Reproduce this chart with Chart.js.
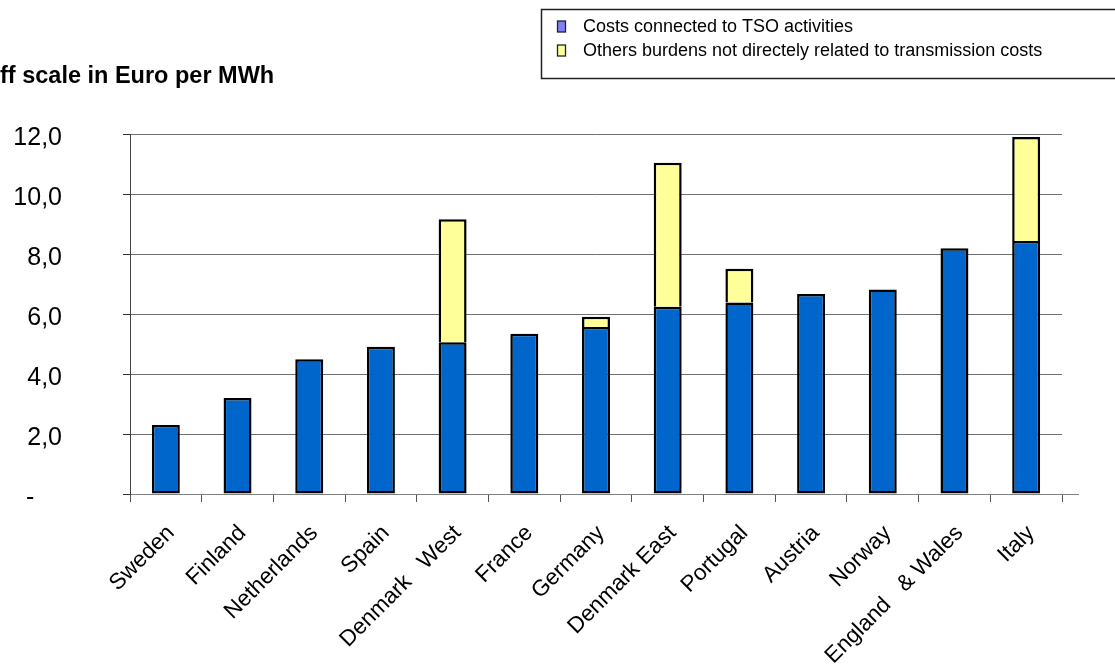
<!DOCTYPE html>
<html>
<head>
<meta charset="utf-8">
<script src="https://cdn.jsdelivr.net/npm/chart.js@4.4.1/dist/chart.umd.min.js"></script>
<style>
  html, body { margin: 0; padding: 0; background: #ffffff; }
  #wrap { width: 1115px; height: 666px; position: relative; }
</style>
</head>
<body>
<div id="wrap"><canvas id="c" width="1115" height="666"></canvas></div>
<script>
// Countries, ordered by transmission tariff
const countries = [
  'Sweden', 'Finland', 'Netherlands', 'Spain', 'Denmark   West', 'France',
  'Germany', 'Denmark East', 'Portugal', 'Austria', 'Norway',
  'England   & Wales', 'Italy'
];

// Euro per MWh, costs connected to TSO activities
const tsoCosts = [2.3, 3.2, 4.49, 4.91, 5.06, 5.34, 5.57, 6.24, 6.38, 6.67, 6.82, 8.19, 8.43];

// Euro per MWh, other burdens stacked on top
const otherBurdens = [0, 0, 0, 0, 4.1, 0, 0.34, 4.8, 1.13, 0, 0, 0, 3.47];

// Value axis labels, from 0 up to 12
const yTickLabels = ['-    ', '2,0', '4,0', '6,0', '8,0', '10,0', '12,0'];

const seriesNames = [
  'Costs connected to TSO activities',
  'Others burdens not directely related to transmission costs'
];

const FONT = "'Liberation Sans', Arial, sans-serif";
const BLUE = '#0066CC';
const YELLOW = '#FFFF99';
const SWATCH_BLUE = '#8080F4';
const SWATCH_YELLOW = '#FFFF99';

// Boxed legend in the top-right corner
const boxedLegend = {
  id: 'boxedLegend',
  afterDraw(chart) {
    const ctx = chart.ctx;
    ctx.save();
    ctx.lineWidth = 1.5;
    ctx.strokeStyle = '#222';
    ctx.strokeRect(541.5, 9.5, 620, 69);
    chart.data.datasets.forEach((ds, i) => {
      const y = 27 + i * 24;
      ctx.fillStyle = ds.swatch;
      ctx.fillRect(557.5, y - 6, 8, 11);
      ctx.lineWidth = 1.3;
      ctx.strokeStyle = '#222';
      ctx.strokeRect(557.5, y - 6, 8, 11);
      ctx.fillStyle = '#000';
      ctx.font = '18px ' + FONT;
      ctx.textBaseline = 'middle';
      ctx.textAlign = 'left';
      ctx.fillText(ds.label, 583, y);
    });
    ctx.restore();
  }
};

// Category axis baseline runs a little past the last column
const baselineTail = {
  id: 'baselineTail',
  afterDraw(chart) {
    const {ctx, chartArea} = chart;
    ctx.save();
    ctx.strokeStyle = '#808080';
    ctx.lineWidth = 1;
    ctx.beginPath();
    ctx.moveTo(chartArea.right, Math.round(chartArea.bottom) + 0.5);
    ctx.lineTo(1079, Math.round(chartArea.bottom) + 0.5);
    ctx.stroke();
    ctx.restore();
  }
};

new Chart(document.getElementById('c'), {
  type: 'bar',
  data: {
    labels: countries,
    datasets: [
      {
        label: seriesNames[0],
        data: tsoCosts,
        backgroundColor: BLUE,
        borderColor: '#000',
        borderWidth: 2.5,
        borderSkipped: false,
        swatch: SWATCH_BLUE,
        barPercentage: 0.39,
        categoryPercentage: 1.0
      },
      {
        label: seriesNames[1],
        data: otherBurdens,
        backgroundColor: YELLOW,
        borderColor: '#000',
        borderWidth: 2.5,
        borderSkipped: 'bottom',
        swatch: SWATCH_YELLOW,
        barPercentage: 0.39,
        categoryPercentage: 1.0
      }
    ]
  },
  options: {
    responsive: false,
    animation: false,
    layout: { padding: { left: 0, right: 53, top: 0, bottom: 0 } },
    plugins: {
      legend: { display: false },
      tooltip: { enabled: false },
      title: {
        display: true,
        text: 'ff scale in Euro per MWh',
        align: 'start',
        color: '#000',
        font: { family: FONT, size: 23.5, weight: 'bold' },
        padding: { top: 62, bottom: 43.8 }
      }
    },
    scales: {
      x: {
        stacked: true,
        offset: true,
        grid: {
          display: true,
          drawOnChartArea: false,
          drawTicks: true,
          tickLength: 8,
          color: '#555',
          offset: true
        },
        border: { display: true, color: '#808080', width: 1 },
        ticks: {
          autoSkip: false,
          maxRotation: 45,
          minRotation: 45,
          color: '#000',
          padding: 18,
          labelOffset: 5,
          font: { family: FONT, size: 22.5 }
        },
        afterFit(scale) { scale.height = 172; }
      },
      y: {
        stacked: true,
        min: 0,
        max: 12,
        grid: {
          color: '#707070',
          lineWidth: 1,
          drawTicks: true,
          tickLength: 7,
          tickColor: '#333'
        },
        border: { display: true, color: '#444', width: 1 },
        ticks: {
          stepSize: 2,
          color: '#000',
          padding: 61,
          labelOffset: 4,
          font: { family: FONT, size: 25 },
          callback: (value, index) => yTickLabels[index]
        },
        afterFit(scale) { scale.width = 130; }
      }
    }
  },
  plugins: [boxedLegend, baselineTail]
});
</script>
</body>
</html>
